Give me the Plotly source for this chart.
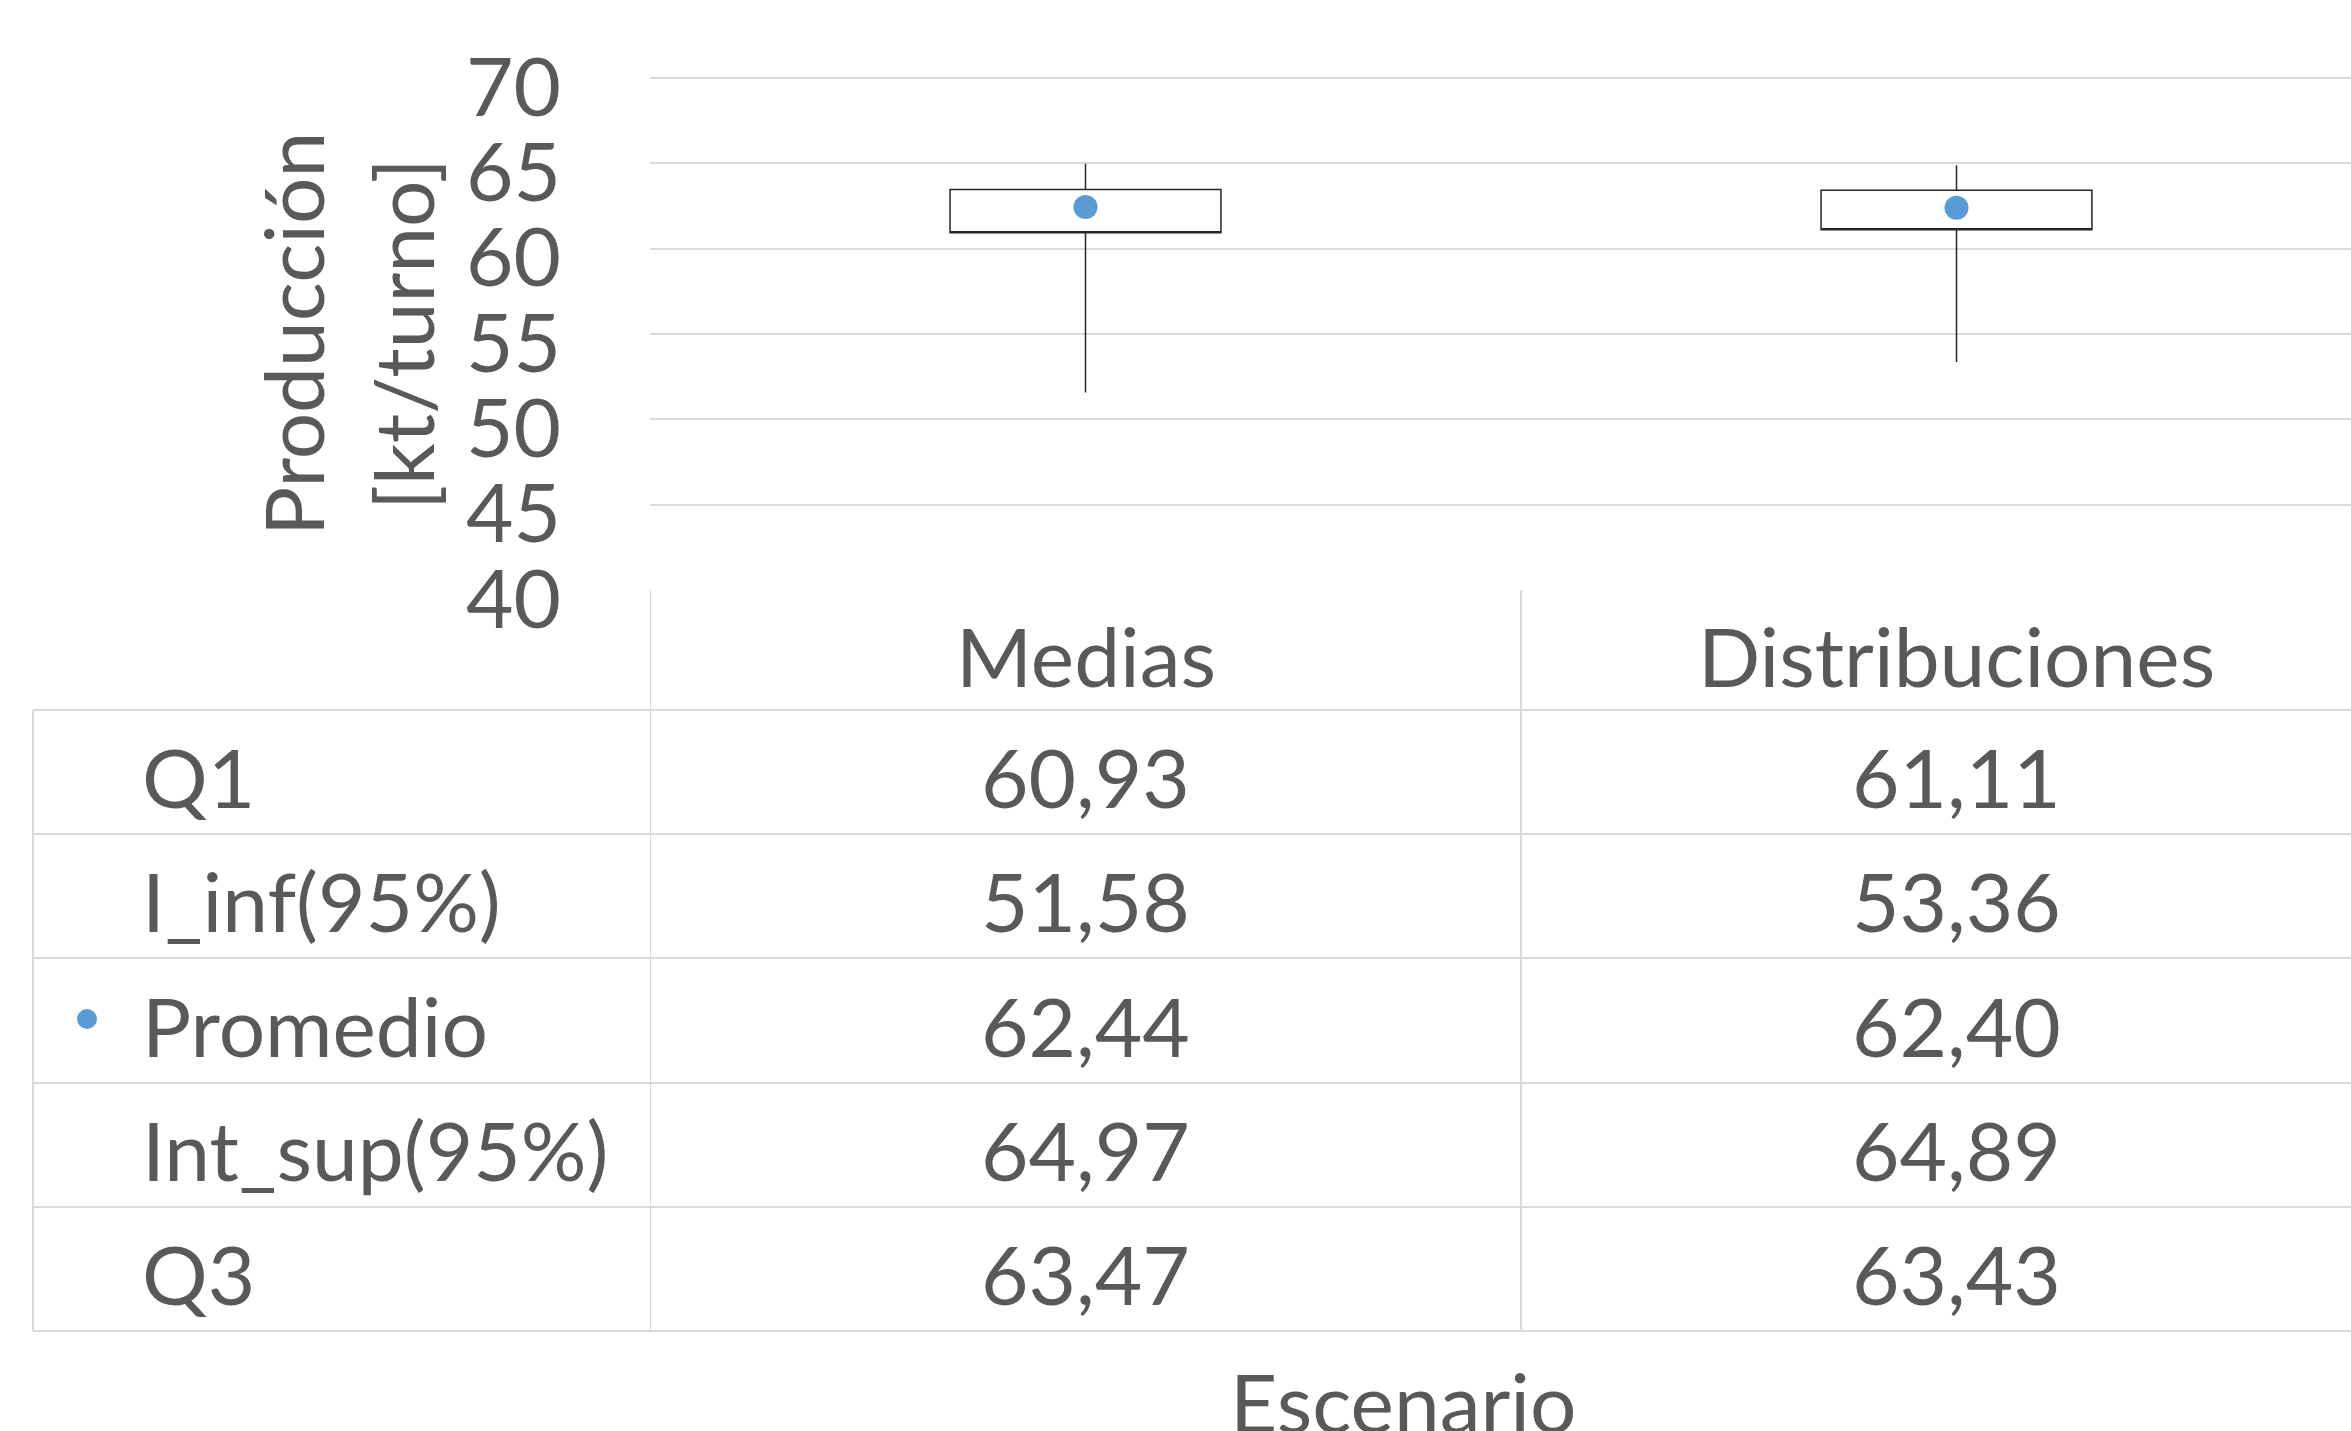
import plotly.graph_objects as go

categories = ["Medias", "Distribuciones"]
q1 = [60.93, 61.11]
i_inf = [51.58, 53.36]
promedio = [62.44, 62.40]
int_sup = [64.97, 64.89]
q3 = [63.47, 63.43]
row_labels = ["Q1", "I_inf(95%)", "Promedio", "Int_sup(95%)", "Q3"]
y_ticks = [40, 45, 50, 55, 60, 65, 70]

W, H = 2351, 1431
L, R, T, B = 650, 0, 77, 841
PW = W - L - R
PH = H - T - B

def px(x):
    return (x - L) / PW

def py(y):
    return (H - B - y) / PH

FONT = "Lato"
TXT = "#595959"
GRID = "#D9D9D9"
FS = 82

def fmt(v):
    return f"{v:.2f}".replace(".", ",")

xs = list(range(len(categories)))

fig = go.Figure()
fig.add_trace(go.Box(
    x=xs, q1=q1, median=q1, q3=q3, lowerfence=i_inf, upperfence=int_sup,
    width=0.311, whiskerwidth=0, fillcolor="white",
    line=dict(color="#262626", width=1.5), boxpoints=False, showlegend=False,
    hoverinfo="skip",
))
fig.add_trace(go.Scatter(
    x=xs, y=promedio, mode="markers",
    marker=dict(size=24, color="#5B9BD5"), showlegend=False,
))

shapes = []
line = dict(color=GRID, width=2)
for xv in [-0.5, 0.5]:
    shapes.append(dict(type="line", xref="x", yref="paper", x0=xv, x1=xv,
                       y0=py(590), y1=py(1331), line=line))
shapes.append(dict(type="line", xref="paper", yref="paper", x0=px(33), x1=px(33),
                   y0=py(710), y1=py(1331), line=line))
row_edges = [710, 834, 958, 1083, 1207, 1331]
for ye in row_edges:
    shapes.append(dict(type="line", xref="paper", yref="paper", x0=px(33), x1=1,
                       y0=py(ye), y1=py(ye), line=line))
shapes.append(dict(type="circle", xref="paper", yref="paper", xsizemode="pixel",
                   ysizemode="pixel", xanchor=px(87), yanchor=py(1019),
                   x0=-10, x1=10, y0=-10, y1=10,
                   fillcolor="#5B9BD5", line=dict(width=0)))

ann = []
tf = dict(family=FONT, size=FS, color=TXT)
for i, c in enumerate(categories):
    ann.append(dict(x=i, y=py(655), xref="x", yref="paper", text=c, showarrow=False,
                    font=tf, xanchor="center", yanchor="middle"))
rows = [q1, i_inf, promedio, int_sup, q3]
for r, (lab, vals) in enumerate(zip(row_labels, rows)):
    yc = (row_edges[r] + row_edges[r + 1]) / 2 + 4
    ann.append(dict(x=px(140), y=py(yc), xref="paper", yref="paper", text=lab,
                    showarrow=False, font=tf, xanchor="left", yanchor="middle"))
    for i, v in enumerate(vals):
        ann.append(dict(x=i, y=py(yc), xref="x", yref="paper", text=fmt(v),
                        showarrow=False, font=tf, xanchor="center", yanchor="middle"))
ann.append(dict(x=px(292), y=py(334), xref="paper", yref="paper", text="Producción",
                textangle=-90, showarrow=False, font=tf, xanchor="center", yanchor="middle"))
ann.append(dict(x=px(402), y=py(334), xref="paper", yref="paper", text="[kt/turno]",
                textangle=-90, showarrow=False, font=tf, xanchor="center", yanchor="middle"))
ann.append(dict(x=px(1403), y=py(1350), xref="paper", yref="paper", text="Escenario",
                showarrow=False, font=tf, xanchor="center", yanchor="top"))

fig.update_layout(
    width=W, height=H,
    margin=dict(l=L, r=R, t=T, b=B, pad=0),
    paper_bgcolor="white", plot_bgcolor="white",
    xaxis=dict(range=[-0.5, -0.5 + PW / 871], showticklabels=False, showgrid=False,
               zeroline=False, showline=False),
    yaxis=dict(range=[40, 70.06], tickvals=y_ticks, showgrid=True, gridcolor=GRID,
               gridwidth=2, zeroline=False, showline=False,
               tickfont=tf, ticklabelstandoff=88, ticklabelshift=9),
    shapes=shapes, annotations=ann, showlegend=False,
)

fig.write_html("out.html")
